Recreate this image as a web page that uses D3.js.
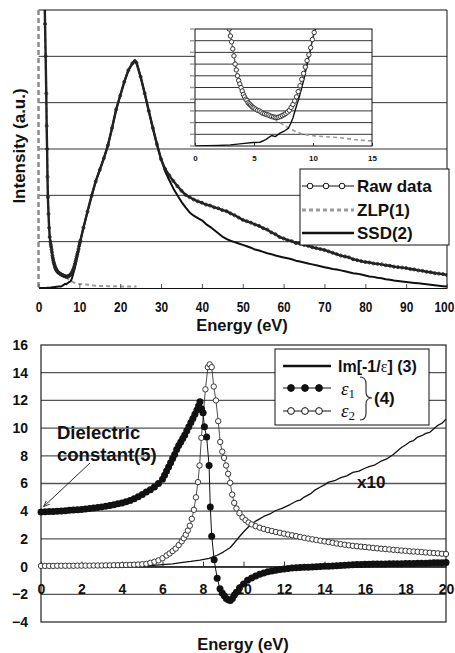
<!DOCTYPE html>
<html>
<head>
<meta charset="utf-8">
<script src="https://cdn.jsdelivr.net/npm/d3@7"></script>
<style>
  body { margin: 0; background: #fff; }
  text { font-family: "Liberation Sans", Arial, sans-serif; font-weight: bold; fill: #111; }
</style>
</head>
<body>
<div id="chart"></div>
<script>
// ---- top panel: EELS spectrum, energy (eV) vs intensity (a.u.) ----
const rawData = [
  [1.5,6.3],[1.6,5.7],[1.75,5.0],[1.9,4.2],[2.0,3.5],[2.1,3.0],[2.2,2.4],[2.3,1.96],[2.45,1.6],[2.6,1.3],[2.75,1.1],
  [2.9,1.0],[3.0,0.94],[3.1,0.89],[3.2,0.83],[3.3,0.77],[3.4,0.7],[3.5,0.65],[3.6,0.6],[3.7,0.56],[3.8,0.53],[3.9,0.5],
  [4.0,0.47],[4.1,0.44],[4.2,0.42],[4.3,0.4],[4.4,0.39],[4.5,0.37],[4.6,0.36],[4.7,0.35],[4.8,0.34],[4.9,0.33],[5.0,0.325],
  [5.15,0.315],[5.3,0.305],[5.45,0.3],[5.6,0.29],[5.75,0.28],[5.9,0.275],[6.05,0.27],[6.2,0.265],[6.35,0.258],[6.5,0.252],
  [6.65,0.248],[6.8,0.245],[6.95,0.244],[7.1,0.247],[7.25,0.252],[7.4,0.26],[7.55,0.268],[7.7,0.278],[7.85,0.29],[8.0,0.305],
  [8.15,0.33],[8.3,0.355],[8.45,0.385],[8.6,0.42],[8.75,0.465],[8.9,0.515],[9.05,0.57],[9.2,0.62],[9.35,0.675],[9.5,0.73],
  [9.65,0.78],[9.8,0.84],[9.95,0.91],[10.1,0.97],[10.25,1.02],
  [11,1.3],[12,1.65],[13,1.99],[14,2.3],[15,2.55],[16,2.8],[17,3.08],[18,3.45],[19,3.85],[20,4.15],[21,4.45],[22,4.7],
  [23,4.85],[23.6,4.9],[24,4.86],[25,4.56],[26,4.2],[27,3.82],[28,3.45],[29,3.1],[30,2.78],[31,2.57],[32,2.43],[33,2.31],
  [34,2.2],[35,2.1],[36,2.01],[37,1.96],[38,1.91],[39,1.87],[40,1.84],[41,1.8],[42,1.78],[43,1.74],[44,1.72],[45,1.68],
  [46,1.66],[47,1.61],[48,1.57],[49,1.52],[50,1.47],[51,1.44],[52,1.41],[53,1.37],[54,1.34],[55,1.29],[56,1.26],[57,1.2],
  [58,1.16],[59,1.1],[60,1.07],[61,1.03],[62,1.01],[63,0.97],[64,0.96],[65,0.93],[66,0.91],[67,0.88],[68,0.86],[69,0.84],
  [70,0.82],[71,0.79],[72,0.76],[73,0.73],[74,0.7],[75,0.68],[76,0.66],[77,0.62],[78,0.6],[79,0.58],[80,0.56],[81,0.55],
  [82,0.53],[83,0.52],[84,0.51],[85,0.49],[86,0.48],[87,0.46],[88,0.45],[89,0.44],[90,0.43],[91,0.41],[92,0.4],[93,0.38],
  [94,0.37],[95,0.35],[96,0.34],[97,0.32],[98,0.31],[99,0.3],[100,0.28]
];
const zlpData = [
  [1.5,6.3],[1.6,5.7],[1.75,5.0],[1.9,4.2],[2.0,3.5],[2.1,3.0],[2.3,1.96],[2.6,1.3],[2.9,1.0],[3.25,0.81],[3.55,0.62],
  [3.85,0.51],[4.2,0.42],[4.6,0.36],[5.0,0.325],[5.4,0.3],[5.8,0.28],[6.2,0.265],[6.6,0.24],[7.0,0.21],[7.5,0.18],[8.0,0.15],
  [8.6,0.12],[9.2,0.1],[9.75,0.09],[11,0.08],[12.3,0.07],[13.5,0.055],[14.6,0.045],[17,0.04],[20,0.035],[24,0.03]
];
const ssdData = [
  [0,0],[1,0.002],[2,0.005],[3,0.01],[4,0.02],[4.9,0.03],[5.5,0.032],[5.8,0.045],[6.0,0.055],[6.2,0.07],[6.5,0.09],
  [6.8,0.08],[7.0,0.095],[7.2,0.11],[7.6,0.13],[7.9,0.15],[8.1,0.19],[8.3,0.24],[8.5,0.31],[8.75,0.39],[9.0,0.48],[9.2,0.56],
  [9.4,0.65],[9.6,0.74],[9.8,0.83],[10.0,0.93],[10.25,1.02],
  [11,1.3],[12,1.65],[13,1.99],[14,2.3],[15,2.55],[16,2.8],[17,3.08],[18,3.45],[19,3.85],[20,4.15],[21,4.45],[22,4.7],
  [23,4.85],[23.6,4.9],[24,4.86],[25,4.56],[26,4.2],[27,3.82],[28,3.45],[29,3.1],[30,2.78],[31,2.52],[32,2.33],[33,2.15],
  [34,2.0],[35,1.86],[36,1.74],[37,1.63],[38,1.56],[39,1.51],[40,1.46],[41,1.38],[42,1.32],[43,1.25],[44,1.18],[45,1.11],
  [46,1.06],[47,1.02],[48,0.99],[49,0.96],[50,0.93],[51,0.9],[52,0.87],[53,0.83],[54,0.81],[55,0.78],[56,0.75],[57,0.73],
  [58,0.7],[59,0.68],[60,0.66],[61,0.64],[62,0.62],[63,0.59],[64,0.57],[65,0.55],[66,0.53],[67,0.51],[68,0.49],[69,0.47],
  [70,0.45],[71,0.43],[72,0.41],[73,0.4],[74,0.38],[75,0.36],[76,0.34],[77,0.32],[78,0.31],[79,0.29],[80,0.27],[81,0.25],
  [82,0.24],[83,0.22],[84,0.21],[85,0.19],[86,0.18],[87,0.16],[88,0.15],[89,0.14],[90,0.13],[91,0.12],[92,0.11],[93,0.1],
  [94,0.09],[95,0.08],[96,0.07],[97,0.06],[98,0.05],[99,0.04],[100,0.03]
];
const topXTicks = [0, 10, 20, 30, 40, 50, 60, 70, 80, 90, 100];
const insetXTicks = [0, 5, 10, 15];
const topLegend = ["Raw data", "ZLP(1)", "SSD(2)"];

// ---- bottom panel: dielectric function ----
const eps1Data = [
  [0,3.95],[0.2,3.96],[0.4,3.97],[0.6,3.98],[0.8,4.0],[1.0,4.02],[1.2,4.04],[1.4,4.06],[1.6,4.08],[1.8,4.1],[2.0,4.13],
  [2.2,4.16],[2.4,4.19],[2.6,4.23],[2.8,4.27],[3.0,4.31],[3.2,4.36],[3.4,4.41],[3.6,4.47],[3.8,4.53],[4.0,4.6],[4.2,4.68],
  [4.4,4.77],[4.6,4.9],[4.8,5.05],[5.0,5.2],[5.2,5.38],[5.4,5.55],[5.6,5.75],[5.8,6.0],[6.0,6.3],[6.1,6.6],[6.2,6.9],
  [6.3,7.2],[6.4,7.5],[6.5,7.8],[6.6,8.1],[6.7,8.45],[6.8,8.75],[6.9,9.0],[7.0,9.25],[7.1,9.5],[7.2,9.8],[7.3,10.1],
  [7.4,10.4],[7.5,10.7],[7.6,11.0],[7.7,11.3],[7.78,11.6],[7.85,11.9],[7.93,11.4],[8.0,11.1],[8.07,10.1],[8.18,9.35],
  [8.3,7.3],[8.36,4.3],[8.43,2.2],[8.55,0.5],[8.7,-0.85],[8.84,-1.6],[8.95,-1.9],[9.05,-2.1],[9.15,-2.3],[9.25,-2.4],
  [9.35,-2.45],[9.45,-2.3],[9.55,-2.05],[9.65,-1.86],[9.8,-1.55],[10.0,-1.25],[10.2,-0.98],[10.4,-0.82],[10.6,-0.68],
  [10.8,-0.56],[11.0,-0.46],[11.2,-0.37],[11.4,-0.31],[11.6,-0.26],[11.8,-0.21],[12.0,-0.17],[12.2,-0.14],[12.4,-0.11],
  [12.6,-0.09],[12.8,-0.07],[13.0,-0.05],[13.2,-0.04],[13.4,-0.02],[13.6,-0.01],[13.8,0.0],[14.0,0.02],[14.2,0.03],
  [14.4,0.05],[14.6,0.06],[14.8,0.08],[15.0,0.1],[15.2,0.12],[15.4,0.14],[15.6,0.15],[15.8,0.16],[16.0,0.17],[16.2,0.17],
  [16.4,0.18],[16.6,0.18],[16.8,0.19],[17.0,0.19],[17.2,0.2],[17.4,0.2],[17.6,0.21],[17.8,0.21],[18.0,0.22],[18.2,0.22],
  [18.4,0.23],[18.6,0.24],[18.8,0.24],[19.0,0.25],[19.2,0.26],[19.4,0.27],[19.6,0.28],[19.8,0.28],[20.0,0.29]
];
const eps2Data = [
  [0,0.05],[0.2,0.05],[0.4,0.05],[0.6,0.05],[0.8,0.06],[1.0,0.06],[1.2,0.06],[1.4,0.06],[1.6,0.06],[1.8,0.07],[2.0,0.07],
  [2.2,0.07],[2.4,0.07],[2.6,0.08],[2.8,0.08],[3.0,0.08],[3.2,0.09],[3.4,0.09],[3.6,0.1],[3.8,0.1],[4.0,0.11],[4.2,0.12],
  [4.4,0.13],[4.6,0.14],[4.8,0.15],[5.0,0.17],[5.2,0.2],[5.4,0.27],[5.6,0.35],[5.8,0.45],[6.0,0.6],[6.2,0.8],[6.35,0.95],
  [6.5,1.12],[6.65,1.3],[6.8,1.55],[6.95,1.82],[7.05,2.05],[7.15,2.3],[7.25,2.6],[7.35,2.95],[7.45,3.45],[7.55,4.1],
  [7.65,5.0],[7.75,6.1],[7.83,7.3],[7.92,9.3],[8.02,11.1],[8.12,12.8],[8.24,14.4],[8.33,14.6],[8.43,14.4],[8.53,13.0],
  [8.64,12.0],[8.75,10.5],[8.85,9.0],[8.95,8.3],[9.04,7.85],[9.14,7.3],[9.24,6.7],[9.34,6.05],[9.44,5.2],[9.54,4.6],
  [9.65,4.2],[9.8,3.85],[9.95,3.55],[10.1,3.35],[10.25,3.18],[10.4,3.05],[10.6,2.92],[10.8,2.81],[11.0,2.72],[11.2,2.64],
  [11.4,2.57],[11.6,2.5],[11.8,2.44],[12.0,2.38],[12.2,2.32],[12.4,2.26],[12.6,2.2],[12.8,2.14],[13.0,2.08],[13.2,2.02],
  [13.4,1.97],[13.6,1.92],[13.8,1.87],[14.0,1.82],[14.2,1.77],[14.4,1.72],[14.6,1.67],[14.8,1.62],[15.0,1.58],[15.2,1.54],
  [15.4,1.5],[15.6,1.47],[15.8,1.44],[16.0,1.41],[16.2,1.38],[16.4,1.35],[16.6,1.32],[16.8,1.29],[17.0,1.27],[17.2,1.24],
  [17.4,1.21],[17.6,1.19],[17.8,1.16],[18.0,1.14],[18.2,1.11],[18.4,1.09],[18.6,1.07],[18.8,1.05],[19.0,1.02],[19.2,1.0],
  [19.4,0.98],[19.6,0.96],[19.8,0.93],[20.0,0.91]
];
const lossData = [
  [0,0],[1,0],[2,0],[3,0.01],[4,0.02],[5,0.03],[5.4,0.07],[6.0,0.14],[6.5,0.2],[6.9,0.28],[7.4,0.37],[7.85,0.47],
  [8.3,0.6],[8.7,0.82],[9.0,1.05],[9.35,1.38],[9.55,1.72],[9.75,2.08],[10.0,2.5],[10.3,2.95],[10.6,3.28],[10.8,3.45],
  [11.0,3.62],[11.3,3.8],[11.6,4.05],[11.9,4.2],[12.3,4.48],[12.6,4.72],[12.8,4.8],[13.0,5.02],[13.3,5.25],[13.5,5.5],
  [13.8,5.75],[14.0,5.9],[14.2,6.1],[14.5,6.2],[14.8,6.42],[15.1,6.55],[15.4,6.8],[15.7,6.9],[16.0,7.1],[16.2,7.22],
  [16.5,7.35],[16.8,7.62],[17.1,7.8],[17.4,8.1],[17.6,8.35],[17.8,8.6],[18.0,8.78],[18.2,9.0],[18.4,9.1],[18.6,9.35],
  [18.8,9.45],[19.0,9.62],[19.2,9.7],[19.4,9.95],[19.6,10.2],[19.8,10.35],[20.0,10.65]
];
const botXTicks = [0, 2, 4, 6, 8, 10, 12, 14, 16, 18, 20];
const botYTicks = [-4, -2, 0, 2, 4, 6, 8, 10, 12, 14, 16];

const svg = d3.select('#chart').append('svg')
  .attr('width', 455).attr('height', 653)
  .style('background', '#fff');
const defs = svg.append('defs');

function clip(id, x0, y0, x1, y1) {
  defs.append('clipPath').attr('id', id).append('rect')
    .attr('x', x0).attr('y', y0).attr('width', x1 - x0).attr('height', y1 - y0);
  return `url(#${id})`;
}

function drawLine(g, data, xs, ys, stroke, width, dash) {
  g.append('path').datum(data)
    .attr('fill', 'none').attr('stroke', stroke).attr('stroke-width', width)
    .attr('stroke-dasharray', dash || null)
    .attr('stroke-linejoin', 'round')
    .attr('d', d3.line().x(d => xs(d[0])).y(d => ys(d[1])));
}

function drawDots(g, data, xs, ys, r, fill, stroke, sw) {
  g.append('g').selectAll('circle').data(data).join('circle')
    .attr('cx', d => xs(d[0])).attr('cy', d => ys(d[1])).attr('r', r)
    .attr('fill', fill).attr('stroke', stroke).attr('stroke-width', sw);
}

function boldTicks(sel, size) {
  sel.style('font-size', size + 'px').style('font-family', '"Liberation Sans", Arial, sans-serif')
    .style('font-weight', 'bold').attr('fill', '#111');
}

// ================= TOP PANEL =================
const tp = { left: 38.5, right: 447, top: 10, bottom: 288 };
const x1 = d3.scaleLinear().domain([0, 100]).range([tp.left, tp.right]);
const y1 = d3.scaleLinear().domain([0, 6]).range([tp.bottom, tp.top]);

const topG = svg.append('g');
topG.append('g').selectAll('line').data([1, 2, 3, 4, 5]).join('line')
  .attr('x1', tp.left).attr('x2', tp.right)
  .attr('y1', d => y1(d)).attr('y2', d => y1(d))
  .attr('stroke', '#333').attr('stroke-width', 1);

const topPlot = topG.append('g').attr('clip-path', clip('clipTop', tp.left, tp.top, tp.right, tp.bottom));
drawLine(topPlot, zlpData, x1, y1, '#9a9a9a', 2, '4,3');
drawLine(topPlot, ssdData, x1, y1, '#111', 2);
drawLine(topPlot, rawData, x1, y1, '#222', 2.4);
drawDots(topPlot, rawData, x1, y1, 1.5, 'none', '#222', 0.9);

// frame: top, right; left edge drawn as grey dashed line
topG.append('line').attr('x1', tp.left).attr('x2', tp.right).attr('y1', tp.top).attr('y2', tp.top)
  .attr('stroke', '#111').attr('stroke-width', 1);
topG.append('line').attr('x1', tp.right).attr('x2', tp.right).attr('y1', tp.top).attr('y2', tp.bottom)
  .attr('stroke', '#111').attr('stroke-width', 1);
topG.append('line').attr('x1', tp.left).attr('x2', tp.left).attr('y1', tp.top).attr('y2', tp.bottom)
  .attr('stroke', '#8c8c8c').attr('stroke-width', 2.5).attr('stroke-dasharray', '5,3');

const xAxisTop = topG.append('g').attr('transform', `translate(0,${tp.bottom})`)
  .call(d3.axisBottom(x1).tickValues(topXTicks).tickSize(-4).tickSizeOuter(0));
xAxisTop.select('.domain').attr('stroke', '#111');
xAxisTop.selectAll('.tick line').attr('stroke', '#555');
xAxisTop.selectAll('.tick text')
  .attr('y', 14).attr('dy', '0.71em')
  .attr('text-anchor', d => d === 100 ? 'end' : 'middle')
  .attr('x', d => d === 100 ? 8 : 0)
  .attr('transform', 'scale(0.85,1)')
  .call(boldTicks, 14);

topG.append('text').attr('x', 242).attr('y', 331).attr('text-anchor', 'middle')
  .style('font-size', '16.5px').text('Energy (eV)');
topG.append('text').attr('transform', 'translate(25,146) rotate(-90)').attr('text-anchor', 'middle')
  .style('font-size', '17px').text('Intensity (a.u.)');

// ---- inset ----
const ip = { left: 195, right: 372, top: 29, bottom: 146 };
const x2 = d3.scaleLinear().domain([0, 15]).range([ip.left, ip.right]);
const y2 = d3.scaleLinear().domain([0, 1]).range([ip.bottom, ip.top]);
const insetG = svg.append('g');
insetG.append('rect').attr('x', ip.left).attr('y', ip.top)
  .attr('width', ip.right - ip.left).attr('height', ip.bottom - ip.top).attr('fill', '#fff');
const insetGrid = d3.range(1, 10).map(i => i / 10);
insetG.append('g').selectAll('line').data(insetGrid).join('line')
  .attr('x1', ip.left).attr('x2', ip.right)
  .attr('y1', d => y2(d)).attr('y2', d => y2(d))
  .attr('stroke', '#333').attr('stroke-width', 1);
insetG.append('g').selectAll('line').data(d3.range(0, 11).map(i => i / 10)).join('line')
  .attr('x1', ip.left - 5).attr('x2', ip.left - 1)
  .attr('y1', d => y2(d)).attr('y2', d => y2(d))
  .attr('stroke', '#999').attr('stroke-width', 1.5);
const insetPlot = insetG.append('g').attr('clip-path', clip('clipInset', ip.left, ip.top, ip.right, ip.bottom));
drawLine(insetPlot, zlpData, x2, y2, '#9a9a9a', 1.6, '4,3');
drawLine(insetPlot, ssdData, x2, y2, '#111', 1.4);
drawLine(insetPlot, rawData, x2, y2, '#444', 0.8);
drawDots(insetPlot, rawData, x2, y2, 2.2, '#fff', '#333', 1);
insetG.append('rect').attr('x', ip.left).attr('y', ip.top)
  .attr('width', ip.right - ip.left).attr('height', ip.bottom - ip.top)
  .attr('fill', 'none').attr('stroke', '#111').attr('stroke-width', 1);
const xAxisInset = insetG.append('g').attr('transform', `translate(0,${ip.bottom})`)
  .call(d3.axisBottom(x2).tickValues(insetXTicks).tickSize(-3).tickSizeOuter(0));
xAxisInset.select('.domain').remove();
xAxisInset.selectAll('.tick line').attr('stroke', '#333');
xAxisInset.selectAll('.tick text').attr('y', 9).attr('dy', '0.71em').call(boldTicks, 8);

// ---- top legend ----
const lgT = svg.append('g');
lgT.append('rect').attr('x', 300).attr('y', 169).attr('width', 149).attr('height', 76)
  .attr('fill', '#fff').attr('stroke', '#111').attr('stroke-width', 1);
const lgTy = [186, 210, 233];
lgT.append('line').attr('x1', 302).attr('x2', 354).attr('y1', lgTy[0]).attr('y2', lgTy[0])
  .attr('stroke', '#111').attr('stroke-width', 1);
lgT.append('g').selectAll('circle').data([310, 326, 342]).join('circle')
  .attr('cx', d => d).attr('cy', lgTy[0]).attr('r', 2.8)
  .attr('fill', '#fff').attr('stroke', '#111').attr('stroke-width', 1);
lgT.append('line').attr('x1', 302).attr('x2', 354).attr('y1', lgTy[1]).attr('y2', lgTy[1])
  .attr('stroke', '#9a9a9a').attr('stroke-width', 3).attr('stroke-dasharray', '4,3');
lgT.append('line').attr('x1', 302).attr('x2', 354).attr('y1', lgTy[2]).attr('y2', lgTy[2])
  .attr('stroke', '#111').attr('stroke-width', 2.5);
lgT.selectAll('text.lab').data(topLegend).join('text').attr('class', 'lab')
  .attr('x', 357).attr('y', (d, i) => lgTy[i] + 6)
  .style('font-size', '17px').text(d => d);

// ================= BOTTOM PANEL =================
const bp = { left: 41, right: 446, top: 345, bottom: 622 };
const x3 = d3.scaleLinear().domain([0, 20]).range([bp.left, bp.right]);
const y3 = d3.scaleLinear().domain([-4, 16]).range([bp.bottom, bp.top]);
const botG = svg.append('g');

botG.append('g').selectAll('line').data(botYTicks.slice(1, -1)).join('line')
  .attr('x1', bp.left).attr('x2', bp.right)
  .attr('y1', d => y3(d)).attr('y2', d => y3(d))
  .attr('stroke', '#555').attr('stroke-width', 1.3);
botG.append('rect').attr('x', bp.left).attr('y', bp.top)
  .attr('width', bp.right - bp.left).attr('height', bp.bottom - bp.top)
  .attr('fill', 'none').attr('stroke', '#222').attr('stroke-width', 1.2);

const yAxisBot = botG.append('g').attr('transform', `translate(${bp.left},0)`)
  .call(d3.axisLeft(y3).tickValues(botYTicks).tickSize(0).tickPadding(13)
    .tickFormat(d => d < 0 ? '\u2212' + Math.abs(d) : d));
yAxisBot.select('.domain').remove();
yAxisBot.selectAll('.tick text').call(boldTicks, 14);

const xAxisBot = botG.append('g').attr('transform', `translate(0,${y3(0)})`)
  .call(d3.axisBottom(x3).tickValues(botXTicks).tickSize(-5).tickSizeOuter(0));
xAxisBot.select('.domain').attr('stroke', '#111').attr('stroke-width', 1.2);
xAxisBot.selectAll('.tick line').attr('stroke', '#333');
xAxisBot.selectAll('.tick text').attr('y', 17).attr('dy', '0.71em').call(boldTicks, 14);

const botPlot = botG.append('g').attr('clip-path', clip('clipBot', bp.left - 4, bp.top, bp.right + 4, bp.bottom));
drawLine(botPlot, lossData, x3, y3, '#111', 1.3);
drawLine(botPlot, eps2Data, x3, y3, '#222', 0.8);
drawDots(botPlot, eps2Data, x3, y3, 2.7, '#fff', '#222', 0.9);
drawLine(botPlot, eps1Data, x3, y3, '#111', 1);
drawDots(botPlot, eps1Data, x3, y3, 3.5, '#111', 'none', 0);

botG.append('text').attr('x', 243).attr('y', 650).attr('text-anchor', 'middle')
  .style('font-size', '16.5px').text('Energy (eV)');

// annotations
botG.append('text').attr('x', 57).attr('y', 439).style('font-size', '18.5px').text('Dielectric');
botG.append('text').attr('x', 57).attr('y', 461).style('font-size', '18.5px').text('constant(5)');
defs.append('marker').attr('id', 'arrow').attr('viewBox', '0 0 10 10').attr('refX', 9).attr('refY', 5)
  .attr('markerWidth', 7).attr('markerHeight', 7).attr('orient', 'auto')
  .append('path').attr('d', 'M0,1 L10,5 L0,9').attr('fill', 'none').attr('stroke', '#111').attr('stroke-width', 1.2);
botG.append('line').attr('x1', 90).attr('y1', 463).attr('x2', x3(0) + 3).attr('y2', y3(4) - 5)
  .attr('stroke', '#111').attr('stroke-width', 0.9).attr('marker-end', 'url(#arrow)');
botG.append('text').attr('x', 357).attr('y', 488).style('font-size', '17px').text('x10');

// ---- bottom legend ----
const lgB = svg.append('g');
lgB.append('rect').attr('x', 275).attr('y', 349).attr('width', 154).attr('height', 76)
  .attr('fill', '#fff').attr('stroke', '#111').attr('stroke-width', 1);
lgB.append('line').attr('x1', 283).attr('x2', 331).attr('y1', 366).attr('y2', 366)
  .attr('stroke', '#111').attr('stroke-width', 2.5);
[388, 411].forEach((yy, i) => {
  lgB.append('line').attr('x1', 283).attr('x2', 331).attr('y1', yy).attr('y2', yy)
    .attr('stroke', '#111').attr('stroke-width', 1);
  lgB.append('g').selectAll('circle').data([291, 305, 319]).join('circle')
    .attr('cx', d => d).attr('cy', yy).attr('r', 3.4)
    .attr('fill', i === 0 ? '#111' : '#fff').attr('stroke', '#111').attr('stroke-width', 1);
});
const imText = lgB.append('text').attr('x', 338).attr('y', 372).style('font-size', '16px');
imText.append('tspan').text('Im[-1/');
imText.append('tspan').style('font-family', '"Liberation Serif", serif').style('font-weight', 'normal').text('ε');
imText.append('tspan').text('] (3)');
['1', '2'].forEach((s, i) => {
  const t = lgB.append('text').attr('x', 341).attr('y', i === 0 ? 395 : 417)
    .style('font-family', '"Liberation Serif", serif').style('font-weight', 'normal')
    .style('font-style', 'italic').style('font-size', '19px').attr('fill', '#555');
  t.append('tspan').text('ε');
  t.append('tspan').attr('dy', 3).style('font-style', 'normal').style('font-size', '13px').text(s);
});
lgB.append('path')
  .attr('d', 'M360,377 Q366,377 366,384 L366,392 Q366,398 372,398 Q366,398 366,404 L366,413 Q366,420 360,420')
  .attr('fill', 'none').attr('stroke', '#333').attr('stroke-width', 1.2);
lgB.append('text').attr('x', 374).attr('y', 404).style('font-size', '17px').text('(4)');
</script>
</body>
</html>
